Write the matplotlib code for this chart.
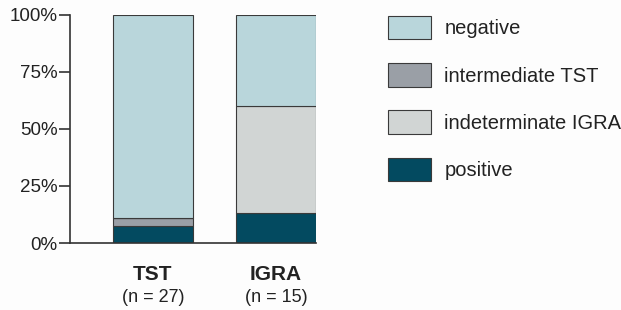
import numpy as np
import matplotlib.pyplot as plt
from matplotlib.patches import Patch

plt.rcParams['font.family'] = ['Liberation Sans', 'DejaVu Sans']

groups = ['TST', 'IGRA']
n_labels = ['(n = 27)', '(n = 15)']
# percentages per category, bottom to top
positive = [7.4, 13.3]
intermediate_tst = [3.7, 0.0]
indeterminate_igra = [0.0, 46.7]
negative = [88.9, 40.0]

cats = ['positive', 'intermediate TST', 'indeterminate IGRA', 'negative']
colors = ['#034a60', '#9a9fa6', '#d1d5d4', '#b9d6db']
values = [positive, intermediate_tst, indeterminate_igra, negative]
legend_order = ['negative', 'intermediate TST', 'indeterminate IGRA', 'positive']

fig = plt.figure(figsize=(6.21, 3.10), dpi=100, facecolor='#fdfdfd')
ax = fig.add_axes([0.1127, 0.216, 0.396, 0.736])
ax.set_facecolor('#fdfdfd')

x = np.arange(len(groups))
bottom = np.zeros(len(groups))
for vals, col in zip(values, colors):
    vals = np.array(vals)
    ax.bar(x, vals, 0.65, bottom=bottom, color=col, edgecolor='#3a3a3a', linewidth=0.8)
    bottom += vals

ax.set_xlim(-0.675, 1.325)
ax.set_ylim(0, 100)
ax.set_yticks([0, 25, 50, 75, 100])
ax.set_yticklabels(['0%', '25%', '50%', '75%', '100%'], fontsize=13.5, color='#222222')
ax.tick_params(axis='y', length=8, width=1.2, color='#333333', pad=1)
ax.set_xticks([])
for s in ['top', 'right']:
    ax.spines[s].set_visible(False)
for s in ['left', 'bottom']:
    ax.spines[s].set_linewidth(1.2)
    ax.spines[s].set_color('#333333')

trans = ax.get_xaxis_transform()
for xi, g, nl in zip(x, groups, n_labels):
    ax.text(xi, -0.14, g, transform=trans, ha='center', va='center',
            fontsize=15, fontweight='bold', color='#222222')
    ax.text(xi, -0.24, nl, transform=trans, ha='center', va='center',
            fontsize=13, color='#222222')

handles = [Patch(facecolor=colors[cats.index(l)], edgecolor='#3a3a3a',
                 linewidth=0.8, label=l) for l in legend_order]
fig.legend(handles=handles, loc='upper left', bbox_to_anchor=(0.612, 0.975),
           frameon=False, fontsize=14.5, handlelength=2.15, handleheight=1.42,
           labelspacing=1.18, handletextpad=0.65, labelcolor='#222222',
           borderaxespad=0)

plt.savefig('out.png', dpi=100, facecolor=fig.get_facecolor())
